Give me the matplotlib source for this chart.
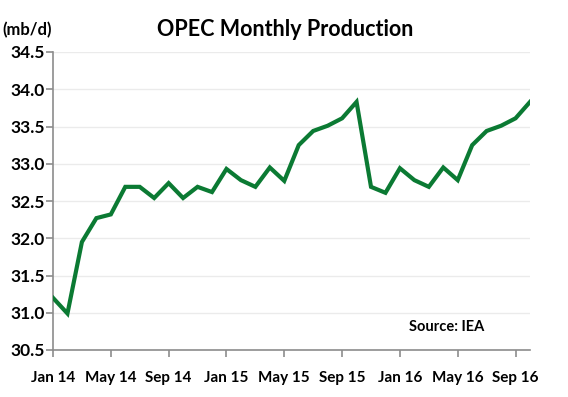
import matplotlib
matplotlib.use("Agg")
import matplotlib.pyplot as plt

months = ["Jan 14","Feb 14","Mar 14","Apr 14","May 14","Jun 14","Jul 14","Aug 14","Sep 14","Oct 14","Nov 14","Dec 14",
          "Jan 15","Feb 15","Mar 15","Apr 15","May 15","Jun 15","Jul 15","Aug 15","Sep 15","Oct 15","Nov 15","Dec 15",
          "Jan 16","Feb 16","Mar 16","Apr 16","May 16","Jun 16","Jul 16","Aug 16","Sep 16","Oct 16"]
production = [31.20, 30.99, 31.95, 32.27, 32.32, 32.69, 32.69, 32.54, 32.74, 32.54, 32.69, 32.62,
              32.93, 32.78, 32.69, 32.95, 32.77, 33.25, 33.44, 33.51, 33.61, 33.83, 32.69, 32.61,
              32.94, 32.78, 32.69, 32.95, 32.78, 33.25, 33.44, 33.51, 33.61, 33.83]
tick_labels = ["Jan 14","May 14","Sep 14","Jan 15","May 15","Sep 15","Jan 16","May 16","Sep 16"]
y_ticks = [30.5, 31.0, 31.5, 32.0, 32.5, 33.0, 33.5, 34.0, 34.5]

plt.rcParams['font.family'] = ['Lato', 'DejaVu Sans']
plt.rcParams['font.weight'] = 'bold'

fig = plt.figure(figsize=(5.68, 3.97), dpi=100)
ax = fig.add_axes([53/568, 1-350/397, (530-53)/568, (350-52)/397])

x = list(range(len(months)))
ax.plot(x, production, color='#0b7a33', linewidth=3.0, solid_joinstyle='miter', zorder=3)

ax.set_xlim(0, len(months)-1)
ax.set_ylim(30.5, 34.5)
ax.set_yticks(y_ticks)
ax.set_yticklabels([f"{v:.1f}" for v in y_ticks], fontsize=12.5, fontweight='bold')
tick_pos = [months.index(t) for t in tick_labels]
ax.set_xticks(tick_pos)
ax.set_xticklabels(tick_labels, fontsize=11, fontweight='bold')

ax.grid(axis='y', color='#ebebeb', linewidth=1.0, zorder=0)
for s in ['top', 'right']:
    ax.spines[s].set_visible(False)
for s in ['left', 'bottom']:
    ax.spines[s].set_color('#8c8c8c')
    ax.spines[s].set_linewidth(1.2)
ax.tick_params(axis='both', direction='out', color='#8c8c8c', length=5, width=1.2)
ax.tick_params(axis='x', pad=10)
ax.tick_params(axis='y', pad=1)

fig.text(285/568, 1-30/397, "OPEC Monthly Production", ha='center', va='center', fontsize=15.5, fontweight='bold')
fig.text(2/568, 1-30/397, "(mb/d)", ha='left', va='center', fontsize=12, fontweight='bold')
fig.text(447/568, 1-327/397, "Source: IEA", ha='center', va='center', fontsize=10.5, fontweight='bold')

fig.savefig("out.png", dpi=100)
